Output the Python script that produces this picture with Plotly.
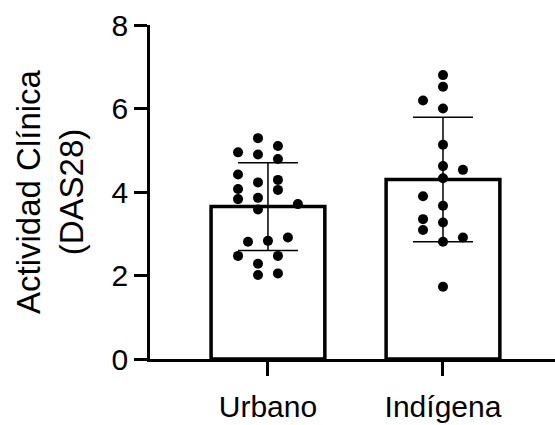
import plotly.graph_objects as go

categories = ["Urbano", "Indígena"]
means = [3.65, 4.30]
sds = [1.05, 1.49]

urbano_vals = [5.29, 4.95, 4.90, 5.10, 4.79, 4.42, 4.07, 3.83, 4.23, 3.86, 4.29,
               4.05, 3.71, 3.58, 2.81, 2.83, 2.91, 2.47, 2.47, 2.28, 2.01, 2.05]
urbano_jitter = [-0.057, -0.171, -0.057, 0.057, 0.057, -0.171, -0.171, -0.171, -0.057, -0.057, 0.057,
                 0.057, 0.171, -0.057, -0.114, 0.0, 0.114, -0.171, 0.057, -0.057, -0.057, 0.057]
indigena_vals = [6.80, 6.52, 6.19, 6.00, 5.13, 4.62, 4.53, 4.33, 3.90, 3.67, 3.35,
                 3.09, 3.27, 2.81, 2.91, 1.73]
indigena_jitter = [0.0, 0.0, -0.114, 0.0, 0.0, 0.0, 0.114, 0.0, -0.114, 0.0, -0.114,
                   -0.114, 0.0, 0.0, 0.114, 0.0]

yticks = [0, 2, 4, 6, 8]

FONT = "Liberation Sans, Arial, sans-serif"

fig = go.Figure()
fig.add_trace(go.Bar(
    x=[0, 1], y=means, width=0.65,
    marker=dict(color="white", line=dict(color="black", width=3.5)),
    error_y=dict(type="data", array=sds, visible=True, color="black", thickness=1.5, width=30),
    showlegend=False, hoverinfo="skip",
))
fig.add_trace(go.Scatter(
    x=[0 + j for j in urbano_jitter], y=urbano_vals, mode="markers",
    marker=dict(color="black", size=10), showlegend=False, cliponaxis=False,
))
fig.add_trace(go.Scatter(
    x=[1 + j for j in indigena_jitter], y=indigena_vals, mode="markers",
    marker=dict(color="black", size=10), showlegend=False, cliponaxis=False,
))

fig.update_layout(
    width=555, height=425,
    margin=dict(l=150, r=0, t=25, b=66),
    plot_bgcolor="white", paper_bgcolor="white",
    font=dict(family=FONT, color="black", size=30),
    xaxis=dict(
        range=[-0.674, 1.64], tickvals=[0, 1], ticktext=categories,
        showgrid=False, zeroline=False, showline=True, linecolor="black", linewidth=2.5,
        ticks="outside", ticklen=14, tickwidth=2.5, tickcolor="black",
        tickfont=dict(size=30), ticklabelstandoff=5, automargin=False,
    ),
    yaxis=dict(
        range=[0, 8], tickvals=yticks, showgrid=False, zeroline=False,
        showline=True, linecolor="black", linewidth=2.5,
        ticks="outside", ticklen=13, tickwidth=2.5, tickcolor="black",
        tickfont=dict(size=30), automargin=False,
    ),
    annotations=[dict(
        text="Actividad Clínica<br>(DAS28)", textangle=-90,
        xref="paper", yref="paper", x=-(150 - 50) / 405, y=0.5,
        xanchor="center", yanchor="middle", showarrow=False,
        font=dict(size=33),
    )],
)

fig.write_html("out.html")
